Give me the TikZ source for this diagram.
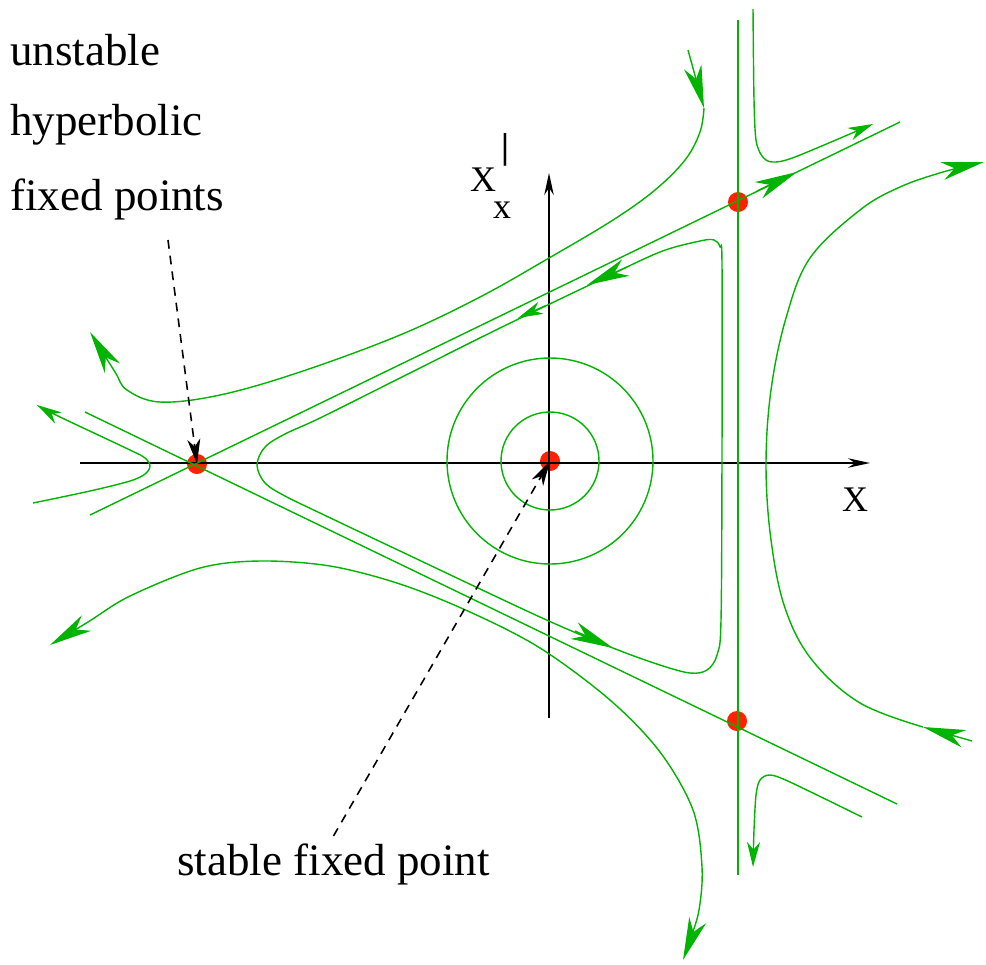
\documentclass[tikz,border=0pt]{standalone}
\usepackage{fontspec}
\setmainfont{Liberation Serif}
\usetikzlibrary{arrows.meta}

\begin{document}
\begin{tikzpicture}[x=0.02cm,y=-0.02cm,
  traj/.style={draw=flow,line width=0.8pt},
  bigtip/.style={-{Stealth[length=8.5mm,width=3.6mm,inset=2.5mm]}},
  smalltip/.style={-{Stealth[length=5mm,width=2.6mm,inset=1.5mm]}},
  axis/.style={line width=1.1pt,-{Stealth[length=4.4mm,width=1.9mm]}},
  pointer/.style={line width=0.9pt,dash pattern=on 5pt off 4pt,-{Stealth[length=5mm,width=2.6mm,inset=1.5mm]}},
  fixpt/.style={circle,fill=dot,inner sep=0pt,minimum size=0.4cm},
  lbl/.style={font=\fontsize{25.6}{30}\selectfont,inner sep=0pt},
  axlbl/.style={font=\fontsize{20.5}{24}\selectfont,inner sep=0pt}]
\definecolor{flow}{HTML}{00B400}
\definecolor{dot}{HTML}{FF2200}
\useasboundingbox (0,0) rectangle (986,964);

\node[fixpt] (saddleL) at (197,464) {};
\node[fixpt] (centre) at (550,461) {};
\node[fixpt] (saddleUR) at (738,202) {};
\node[fixpt] (saddleLR) at (737,721) {};

\draw[axis] (80,463) -- (870,463);
\draw[axis] (549,718) -- (549,173);
\node[axlbl] (xlab) at (855,500) {X};
\node[axlbl] (ylab) at (483,180) {X};
\node[axlbl] (ysub) at (502,210) {x};
\node[axlbl,font=\fontsize{20.5}{24}\selectfont\bfseries] (yprime) at (505,150) {|};

\draw[traj] (centre.center) circle[radius=49];
\draw[traj] (centre.center) circle[radius=103];

\draw[traj] (90,515) -- (900,122);
\draw[traj] (85,412) -- (897,804);
\draw[traj] (738,20) -- (738,875);
\draw[traj,bigtip] (757,191) -- (797,172);

\draw[traj] plot[smooth cycle,tension=0.55] coordinates {(257,465) (265,447) (285,434)
  (320,418) (400,378) (500,328) (600,280) (660,252) (700,241) (714,240) (720,247)
  (722,265) (722,450) (721,620) (717,655) (707,670) (690,673) (660,665) (613,648)
  (540,617) (400,551) (320,513) (285,496) (265,483)};
\draw[traj,bigtip] (627,267) -- (587,285);
\draw[traj,smalltip] (545,306) -- (518,318);
\draw[traj,bigtip] (575,631) -- (613,648);

\draw[traj,bigtip] (688,50) -- (704,108);
\draw[traj,bigtip] plot[smooth,tension=0.6] coordinates {(704,108) (700,132) (685,160)
  (655,190) (613,220) (549,258) (480,297) (400,335) (300,372) (220,395) (160,402)
  (127,390) (115,372) (90,332)};

\draw[traj,smalltip] plot[smooth,tension=0.55] coordinates {(33,503) (90,491) (130,481)
  (145,474) (150,466) (145,458) (130,450) (58,416) (37,405)};

\draw[traj,{Stealth[length=8.5mm,width=3.6mm,inset=2.5mm]}-{Stealth[length=8.5mm,width=3.6mm,inset=2.5mm]}]
  plot[smooth,tension=0.55] coordinates {(50,645) (88,622) (130,596) (200,568) (260,561)
  (330,566) (400,584) (470,612) (540,648) (610,700) (660,752) (693,810) (702,867)
  (699,910) (690,940) (683,960)};

\draw[traj,smalltip] plot[smooth,tension=0.5] coordinates {(753,9) (754,100) (756,140)
  (762,156) (772,162) (795,157) (873,124)};

\draw[traj,bigtip] (972,741) -- (923,727);
\draw[traj,bigtip] plot[smooth,tension=0.6] coordinates {(923,727) (860,703) (812,660)
  (785,608) (771,540) (766,465) (771,390) (786,318) (810,258) (860,210) (900,187)
  (943,172) (984,162)};

\draw[traj,smalltip] plot[smooth,tension=0.5] coordinates {(862,817) (790,782) (770,775)
  (760,780) (756,795) (754,830) (753,867)};

\node[lbl,anchor=base west] (lblUnst) at (10,65) {unstable};
\node[lbl,anchor=base west] (lblHyp) at (10,135) {hyperbolic};
\node[lbl,anchor=base west] (lblFix) at (10,210) {fixed points};
\node[lbl,anchor=base west] (lblStable) at (177,875) {stable fixed point};

\coordinate (hypStart) at (168,240);
\draw[pointer] (hypStart) -- (saddleL.center);
\draw[pointer] ([yshift=4pt]lblStable.north) -- (centre.center);
\end{tikzpicture}
\end{document}
